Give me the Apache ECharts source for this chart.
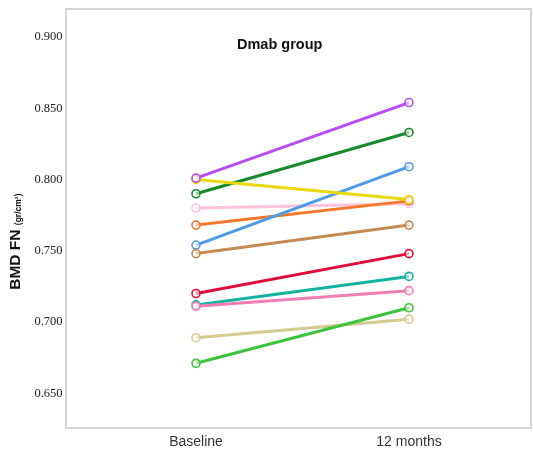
<!DOCTYPE html>
<html>
<head>
<meta charset="utf-8">
<script src="https://cdn.jsdelivr.net/npm/echarts@6/dist/echarts.min.js"></script>
<style>
  html, body { margin: 0; padding: 0; background: #fff; }
  #chart { width: 533px; height: 454px; }
</style>
</head>
<body>
<div id="chart"></div>
<script>
// Time points on the x axis
const timepoints = ['Baseline', '12 months'];

// Femoral neck BMD (gr/cm²) per patient: baseline and after 12 months
const baseline = [0.790, 0.780, 0.768, 0.754, 0.748, 0.720, 0.712, 0.711, 0.689, 0.671, 0.800, 0.801];
const month12  = [0.833, 0.783, 0.785, 0.809, 0.768, 0.748, 0.732, 0.722, 0.702, 0.710, 0.786, 0.854];

// Line colour for each patient
const colors = ['#178a2c', '#ffc3dd', '#f5782a', '#4d9ae6', '#c58a52', '#df0f3d',
                '#13b3a2', '#f27db2', '#d3cb8f', '#3ec43c', '#e8d80c', '#b64cf2'];

// Y tick values
const yMin = 0.60, yMax = 0.95, yStep = 0.05;

const series = baseline.map((b, i) => ({
  type: 'line',
  data: [b, month12[i]],
  symbol: 'circle',
  symbolSize: 8,
  lineStyle: { color: colors[i], width: 3 },
  itemStyle: { color: 'rgba(255,255,255,0.55)', borderColor: colors[i], borderWidth: 1.6 },
  emphasis: { disabled: true },
  z: 3
}));

const chart = echarts.init(document.getElementById('chart'), null, { renderer: 'canvas' });
chart.setOption({
  animation: false,
  backgroundColor: '#ffffff',
  title: {
    text: 'Dmab group',
    left: 237,
    top: 37,
    padding: 0,
    textStyle: { fontFamily: 'Liberation Sans, Arial, sans-serif', fontWeight: 'bold', fontSize: 14.5, color: '#111' }
  },
  graphic: [{
    type: 'rect',
    shape: { x: 66, y: 9, width: 465, height: 419 },
    style: { fill: null, stroke: '#d4d4d4', lineWidth: 2 },
    silent: true,
    z: 0
  }],
  grid: { left: 89.5, width: 426, top: -34.25, height: 498.75, containLabel: false, outerBoundsMode: 'none' },
  xAxis: {
    type: 'category',
    data: timepoints,
    boundaryGap: true,
    offset: -38,
    axisLine: { show: false },
    axisTick: { show: false },
    axisLabel: { margin: 9, fontFamily: 'Liberation Sans, Arial, sans-serif', fontSize: 14, color: '#333' }
  },
  yAxis: {
    type: 'value',
    min: yMin,
    max: yMax,
    interval: yStep,
    axisLine: { show: false },
    axisTick: { show: false },
    splitLine: { show: false },
    axisLabel: {
      showMinLabel: false,
      showMaxLabel: false,
      margin: 27,
      fontFamily: 'Liberation Serif, Times New Roman, serif',
      fontSize: 12.5,
      color: '#222',
      formatter: v => v.toFixed(3)
    },
    name: 'BMD FN {b|(gr/cm²)}',
    nameLocation: 'middle',
    nameRotate: 90,
    nameGap: 56,
    nameTextStyle: {
      fontFamily: 'Liberation Sans, Arial, sans-serif',
      fontWeight: 'bold',
      fontSize: 15.5,
      color: '#111',
      padding: [0, 53, 0, 0],
      rich: {
        b: { fontFamily: 'Liberation Sans, Arial, sans-serif', fontWeight: 'bold', fontSize: 8.5, color: '#111', padding: [6, 0, 0, 0] }
      }
    }
  },
  series: series
});
</script>
</body>
</html>
